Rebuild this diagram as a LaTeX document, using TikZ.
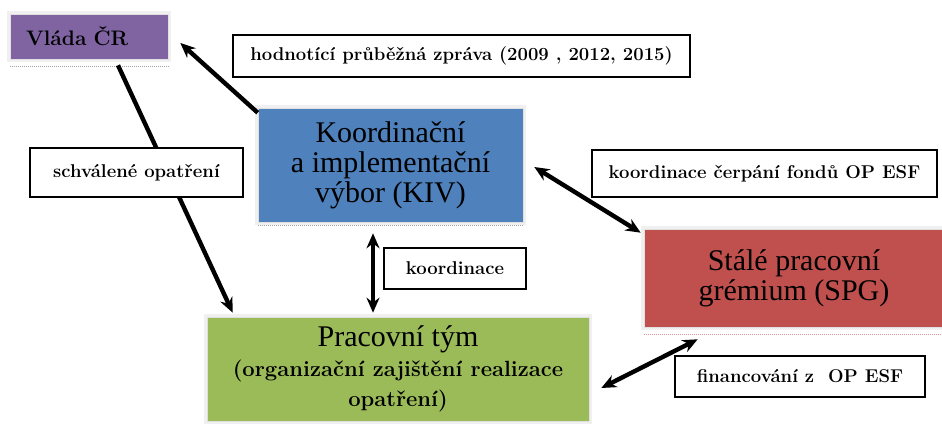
\documentclass[tikz,border=0pt]{standalone}
\usepackage{fontspec}
\setmainfont{Liberation Serif}
\newfontfamily\lmr{Latin Modern Roman}
\usetikzlibrary{arrows.meta}
\definecolor{cpurple}{HTML}{8064A2}
\definecolor{cblue}{HTML}{4F81BD}
\definecolor{cred}{HTML}{C0504D}
\definecolor{cgreen}{HTML}{9BBB59}
\begin{document}
\begin{tikzpicture}[x=1pt,y=-1pt,
  colbox/.style={draw=black!12, line width=0.6pt, inner sep=0pt, align=center,
    preaction={draw=black!6, line width=6pt}},
  lbl/.style={draw=black, fill=white, line width=1.4pt, inner sep=0pt,
    font=\lmr\bfseries\fontsize{18.5}{22}\selectfont},
  big/.style={font=\fontsize{30}{30}\selectfont},
  arr/.style={line width=4.4pt, -{Stealth[length=15pt,width=13pt]}},
  darr/.style={line width=4.4pt, {Stealth[length=15pt,width=13pt]}-{Stealth[length=15pt,width=13pt]}},
  shade/.style={black!35, densely dotted, line width=1pt}]
\useasboundingbox (0,0) rectangle (942,425);
\fill[white] (0,0) rectangle (942,425);

% coloured boxes
\node[colbox, fill=cpurple, minimum width=158pt, minimum height=45pt,
  text width=126pt, inner xsep=16pt, align=left,
  font=\lmr\bfseries\fontsize{21}{24}\selectfont] (vlada) at (89,36.5) {Vláda ČR};
\node[colbox, fill=cblue, big, minimum width=265pt, minimum height=114pt] (kiv) at (390.5,165)
  {Koordinační\\a implementační\\výbor (KIV)};
\node[colbox, fill=cred, big, minimum width=300pt, minimum height=98pt] (spg) at (794,278)
  {Stálé pracovní\\grémium (SPG)};
\node[colbox, fill=cgreen, big, minimum width=382pt, minimum height=104pt] (prac) at (398,369)
  {Pracovní tým\\
   {\lmr\bfseries\fontsize{22}{30}\selectfont (organizační zajištění realizace}\\
   {\lmr\bfseries\fontsize{22}{30}\selectfont opatření)}};

% faint shadow edges
\draw[shade] ([yshift=-7pt]vlada.south west) -- ([yshift=-7pt]vlada.south east);
\draw[shade] ([yshift=-3pt]kiv.south west) -- ([yshift=-3pt]kiv.south east);
\draw[shade, cred!60] ([yshift=-7pt]spg.south west) -- ([yshift=-7pt,xshift=4pt]spg.south east);

% connectors
\draw[arr] ([yshift=-5pt]kiv.north west) -- ([xshift=12pt,yshift=-6.5pt]vlada.east);
\draw[arr] ([xshift=29pt,yshift=-6pt]vlada.south) -- ([xshift=26pt,yshift=4pt]prac.north west);
\draw[darr] ([xshift=11pt,yshift=-2pt]kiv.east) -- ([xshift=-3pt,yshift=-4pt]spg.north west);
\draw[darr] ([xshift=-17.5pt,yshift=-11pt]kiv.south) -- ([xshift=-25pt,yshift=4pt]prac.north);
\draw[darr] ([xshift=12pt,yshift=-19pt]prac.east) -- ([xshift=54pt,yshift=-12pt]spg.south west);

% labels
\node[lbl, minimum width=457pt, minimum height=42pt] (hod) at (461.5,56)
  {hodnotící průběžná zpráva (2009 , 2012, 2015)};
\node[lbl, minimum width=213pt, minimum height=49pt] (schv) at (136.5,172.5)
  {schválené opatření};
\node[lbl, minimum width=345pt, minimum height=47pt] (cerp) at (764.5,173.5)
  {koordinace čerpání fondů OP ESF};
\node[lbl, minimum width=142pt, minimum height=41pt] (koord) at (455,268.5)
  {koordinace};
\node[lbl, minimum width=250pt, minimum height=41pt] (fin) at (800,376.5)
  {financování z~~OP ESF};
\end{tikzpicture}
\end{document}
